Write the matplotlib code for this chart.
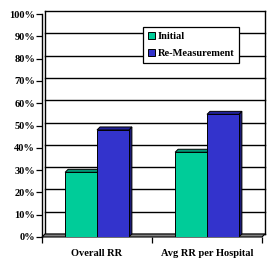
import numpy as np
import matplotlib
matplotlib.use('Agg')
import matplotlib.pyplot as plt
from matplotlib.patches import Polygon, Patch

categories = ['Overall RR', 'Avg RR per Hospital']
series_names = ['Initial', 'Re-Measurement']
initial = [29, 38]
remeasure = [48, 55]
yticks = list(range(0, 101, 10))

front_colors = ['#00CC99', '#3333CC']
top_colors = ['#009977', '#222299']
side_colors = ['#007755', '#1A1A77']

plt.rcParams['font.family'] = 'Liberation Serif'
plt.rcParams['font.weight'] = 'bold'

W, H, dpi = 267, 261, 100
fig = plt.figure(figsize=(W / dpi, H / dpi), dpi=dpi)
ax = fig.add_axes([42 / W, 24 / H, 220 / W, 223 / H])
ax.set_xlim(-0.5, 1.5)
ax.set_ylim(0, 100)

# depth of the fake 3D in pixels -> data units
depth_px = 3
ddx = depth_px / (220 / 2.0)
ddy = depth_px / (223 / 100.0)

# back wall gridlines and edges
for v in yticks:
    ax.plot([-0.5 + ddx, 1.5 + ddx], [v + ddy, v + ddy], color='black', lw=1.0, clip_on=False, zorder=1)
ax.plot([-0.5 + ddx, -0.5 + ddx], [ddy, 100 + ddy], color='black', lw=1.0, clip_on=False, zorder=1)
ax.plot([1.5 + ddx, 1.5 + ddx], [ddy, 100 + ddy], color='black', lw=1.0, clip_on=False, zorder=1)

# floor
floor = Polygon([(-0.5, 0), (1.5, 0), (1.5 + ddx, ddy), (-0.5 + ddx, ddy)], closed=True,
                facecolor='#808080', edgecolor='black', lw=0.8, clip_on=False, zorder=2)
ax.add_patch(floor)

x = np.arange(len(categories))
bw = 0.29
for i, vals in enumerate([initial, remeasure]):
    xs = x + (i - 0.5) * bw
    for xc, h in zip(xs, vals):
        x0, x1 = xc - bw / 2, xc + bw / 2
        side = Polygon([(x1, 0), (x1 + ddx, ddy), (x1 + ddx, h + ddy), (x1, h)], closed=True,
                       facecolor=side_colors[i], edgecolor='black', lw=0.7, zorder=3)
        top = Polygon([(x0, h), (x1, h), (x1 + ddx, h + ddy), (x0 + ddx, h + ddy)], closed=True,
                      facecolor=top_colors[i], edgecolor='black', lw=0.7, zorder=3)
        ax.add_patch(side)
        ax.add_patch(top)
    ax.bar(xs, vals, width=bw, color=front_colors[i], edgecolor='black', lw=0.7, zorder=4)

for s in ['top', 'right', 'bottom']:
    ax.spines[s].set_visible(False)
ax.spines['left'].set_linewidth(1.0)

ax.set_yticks(yticks)
ax.set_yticklabels([f'{v}%' for v in yticks], fontsize=7.5, fontweight='bold')
ax.tick_params(axis='y', length=4, width=0.9, pad=1)

ax.set_xticks([-0.5, 0.5, 1.5])
ax.set_xticklabels([])
ax.set_xticks(x, minor=True)
ax.set_xticklabels(categories, minor=True, fontsize=7.5, fontweight='bold')
ax.tick_params(axis='x', which='major', length=4, width=0.9)
ax.tick_params(axis='x', which='minor', length=0, pad=9)

handles = [Patch(facecolor=c, edgecolor='black', lw=0.7) for c in front_colors]
leg = fig.legend(handles, series_names, loc='upper left', bbox_to_anchor=(143 / W, 1 - 27 / H),
                 fancybox=False, framealpha=1, edgecolor='black', fontsize=7.5,
                 handlelength=0.7, handleheight=0.7, handletextpad=0.3,
                 borderpad=0.45, labelspacing=0.75, borderaxespad=0)
leg.get_frame().set_linewidth(0.9)
for t in leg.get_texts():
    t.set_fontweight('bold')

fig.savefig('out.png', dpi=dpi)
